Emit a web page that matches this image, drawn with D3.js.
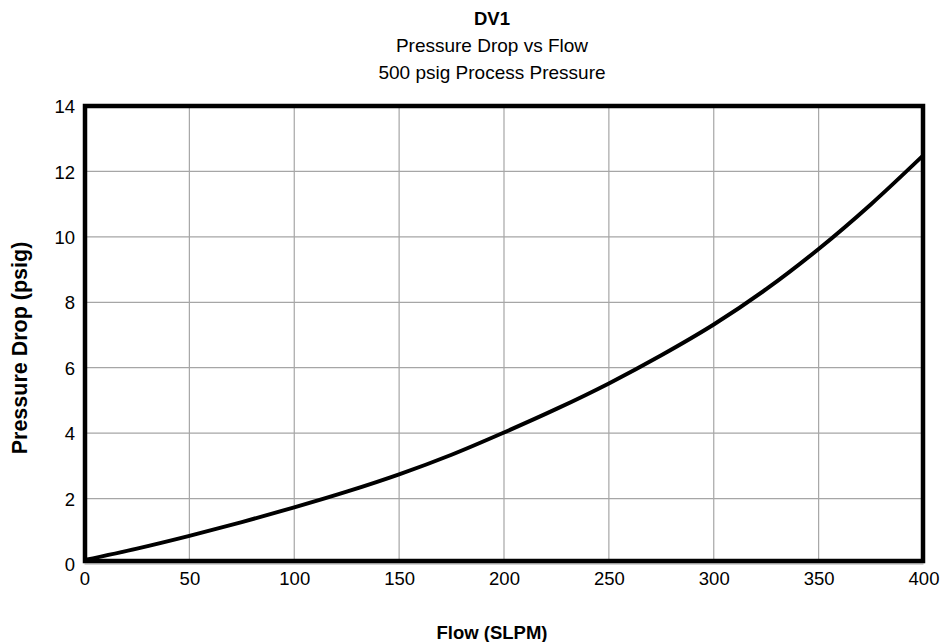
<!DOCTYPE html>
<html>
<head>
<meta charset="utf-8">
<script src="https://cdn.jsdelivr.net/npm/d3@7/dist/d3.min.js"></script>
<style>
  html, body { margin: 0; padding: 0; background: #fff; }
  svg { display: block; font-family: "Liberation Sans", Arial, Helvetica, sans-serif; }
</style>
</head>
<body>
<svg id="chart" width="942" height="642"></svg>
<script>
// Data
const flow = [0, 25, 50, 75, 100, 125, 150, 175, 200, 225, 250, 275, 300, 325, 350, 375, 400];
const pressureDrop = [0.12, 0.47, 0.86, 1.28, 1.73, 2.21, 2.74, 3.34, 4.02, 4.74, 5.52, 6.38, 7.32, 8.4, 9.63, 11.0, 12.5];
const xTicks = [0, 50, 100, 150, 200, 250, 300, 350, 400];
const yTicks = [0, 2, 4, 6, 8, 10, 12, 14];
const titleLines = ["DV1", "Pressure Drop vs Flow", "500 psig Process Pressure"];
const xLabel = "Flow (SLPM)";
const yLabel = "Pressure Drop (psig)";

(function () {
const svg = d3.select("#chart");
const pLeft = 84.5, pRight = 923.5, pTop = 106, pBottom = 564, borderBottom = 561;

const x = d3.scaleLinear().domain([0, 400]).range([pLeft, pRight]);
const y = d3.scaleLinear().domain([0, 14]).range([pBottom, pTop]);

// Grid lines
const grid = svg.append("g");
grid.selectAll("line.vx").data(xTicks).join("line").attr("class", "vx")
  .attr("x1", d => x(d)).attr("x2", d => x(d))
  .attr("y1", pTop).attr("y2", borderBottom)
  .attr("stroke", "#a6a6a6").attr("stroke-width", 1.2);
grid.selectAll("line.hy").data(yTicks).join("line").attr("class", "hy")
  .attr("x1", pLeft).attr("x2", pRight)
  .attr("y1", d => y(d)).attr("y2", d => y(d))
  .attr("stroke", "#a6a6a6").attr("stroke-width", 1.2);

// Clip
svg.append("clipPath").attr("id", "clip").append("rect")
  .attr("x", pLeft).attr("y", pTop).attr("width", pRight - pLeft).attr("height", borderBottom - pTop);

// Curve
const line = d3.line()
  .x((d, i) => x(flow[i]))
  .y(d => y(d))
  .curve(d3.curveCatmullRom.alpha(0.5));
svg.append("path")
  .datum(pressureDrop)
  .attr("d", line)
  .attr("fill", "none")
  .attr("stroke", "#000")
  .attr("stroke-width", 4)
  .attr("clip-path", "url(#clip)");

// Border
svg.append("rect")
  .attr("x", 85).attr("y", pTop)
  .attr("width", 923 - 85).attr("height", borderBottom - pTop)
  .attr("fill", "none").attr("stroke", "#000").attr("stroke-width", 4.5);

// Axes tick labels via d3 axes
const xAxis = d3.axisBottom(x).tickValues(xTicks).tickSize(0).tickPadding(0);
const gx = svg.append("g").attr("transform", "translate(0, 572)").call(xAxis);
gx.select(".domain").remove();
gx.selectAll("text").attr("font-size", "18.5px").attr("fill", "#000")
  .attr("dy", "0.71em").attr("y", 0)
  .style("font-family", '"Liberation Sans", Arial, sans-serif');

const yAxis = d3.axisLeft(y).tickValues(yTicks).tickSize(0).tickPadding(0);
const gy = svg.append("g").attr("transform", "translate(75, 0)").call(yAxis);
gy.select(".domain").remove();
gy.selectAll("text").attr("font-size", "18.5px").attr("fill", "#000")
  .attr("x", 0).attr("dy", "0.36em")
  .style("font-family", '"Liberation Sans", Arial, sans-serif');

// Titles
const titleY = [24.5, 51.5, 79];
svg.selectAll("text.title").data(titleLines).join("text")
  .attr("class", "title")
  .attr("x", 492).attr("y", (d, i) => titleY[i])
  .attr("text-anchor", "middle")
  .attr("font-size", (d, i) => i === 0 ? "18.5px" : "19px")
  .attr("font-weight", (d, i) => i === 0 ? "bold" : "normal")
  .attr("fill", "#000")
  .text(d => d);

// Axis labels
svg.append("text")
  .attr("x", 492).attr("y", 639)
  .attr("text-anchor", "middle")
  .attr("font-size", "18.5px").attr("font-weight", "bold")
  .text(xLabel);

svg.append("text")
  .attr("transform", "translate(27, 348) rotate(-90)")
  .attr("text-anchor", "middle")
  .attr("font-size", "21.5px").attr("font-weight", "bold")
  .text(yLabel);
})();
</script>
</body>
</html>
